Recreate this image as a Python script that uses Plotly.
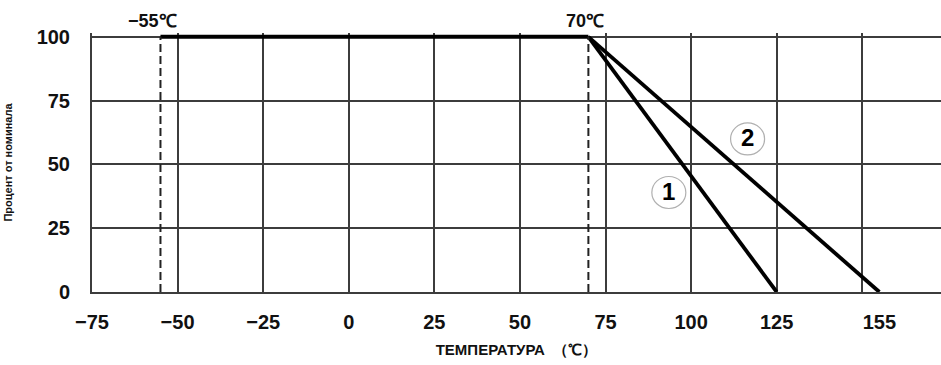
import plotly.graph_objects as go

# ---- data ----
x_ticks = [-75, -50, -25, 0, 25, 50, 75, 100, 125, 155]
x_grid = [-50, -25, 0, 25, 50, 75, 100, 125, 150]
y_ticks = [0, 25, 50, 75, 100]

flat_x = [-55, 70]
flat_y = [100, 100]
curve1_x = [70, 125]
curve1_y = [100, 0]
curve2_x = [70, 155]
curve2_y = [100, 0]
dash_x = [-55, 70]
dash_labels = ["−55℃", "70℃"]
curve_labels = ["1", "2"]
label_x = [93.5, 116.5]
label_y = [39, 60]

TICK_FONT = dict(family="Liberation Sans, Arial, sans-serif", size=20, color="#111")
GRID = "#3c3c3c"

fig = go.Figure()

# dashed temperature limits (on grid axis)
for xv in dash_x:
    fig.add_trace(go.Scatter(x=[xv, xv], y=[0, 100], mode="lines", xaxis="x2",
                             line=dict(color="#222", width=2, dash="8px,4px"),
                             showlegend=False, hoverinfo="skip"))

fig.add_trace(go.Scatter(x=flat_x, y=flat_y, mode="lines",
                         line=dict(color="#000", width=4), showlegend=False))
fig.add_trace(go.Scatter(x=curve1_x, y=curve1_y, mode="lines",
                         line=dict(color="#000", width=3.8), showlegend=False))
fig.add_trace(go.Scatter(x=curve2_x, y=curve2_y, mode="lines",
                         line=dict(color="#000", width=3.8), showlegend=False))

# circled labels
for t, xv, yv in zip(curve_labels, label_x, label_y):
    fig.add_shape(type="circle", xref="x", yref="y", xsizemode="pixel", ysizemode="pixel",
                  xanchor=xv, yanchor=yv, x0=-17, x1=17, y0=-16, y1=16,
                  line=dict(color="#b0b0b0", width=1.2), fillcolor="rgba(0,0,0,0)")
    fig.add_annotation(x=xv, y=yv, xref="x", yref="y", text="<b>%s</b>" % t,
                       showarrow=False, yshift=1,
                       font=dict(family="Liberation Sans, Arial, sans-serif",
                                 size=24, color="#000"))

# limit labels
for xv, txt, xs in zip(dash_x, dash_labels, [-8, -3]):
    fig.add_annotation(x=xv, y=100, xref="x", yref="y", text="<b>%s</b>" % txt,
                       showarrow=False, yanchor="bottom", yshift=4, xshift=xs,
                       font=dict(family="Liberation Sans, Arial, sans-serif",
                                 size=18, color="#111"))

fig.update_layout(
    width=941, height=365,
    margin=dict(l=92, r=0, t=33, b=73),
    plot_bgcolor="white", paper_bgcolor="white",
    xaxis=dict(range=[-75, 173], tickmode="array", tickvals=x_ticks,
               ticktext=["<b>%s</b>" % (str(v).replace("-", "−")) for v in x_ticks],
               showgrid=False, zeroline=False, showline=True, linecolor=GRID, linewidth=2,
               ticks="", tickfont=TICK_FONT, ticklabelstandoff=11, automargin=False,
               title=dict(text="<b>ТЕМПЕРАТУРА  （℃）</b>",
                          font=dict(family="Liberation Sans, Arial, sans-serif", size=15, color="#111"),
                          standoff=12)),
    xaxis2=dict(range=[-75, 173], overlaying="x", anchor="y", side="bottom",
                tickmode="array", tickvals=x_grid, showticklabels=False, ticks="",
                showgrid=True, gridcolor=GRID, gridwidth=1.6, zeroline=False, showline=False,
                automargin=False),
    yaxis=dict(range=[0, 101.5], tickmode="array", tickvals=y_ticks,
               ticktext=["<b>%d</b>" % v for v in y_ticks],
               showgrid=True, gridcolor=GRID, gridwidth=1.6, zeroline=False,
               showline=True, linecolor=GRID, linewidth=2, ticks="",
               tickfont=TICK_FONT, ticklabelstandoff=16, automargin=False,
               title=dict(text="<b>Процент от номинала</b>",
                          font=dict(family="Liberation Sans, Arial, sans-serif", size=11, color="#111"),
                          standoff=22)),
)

fig.write_html("out.html", config={"displayModeBar": False},
               post_script="document.body.style.margin='0';document.body.style.overflow='hidden';")
